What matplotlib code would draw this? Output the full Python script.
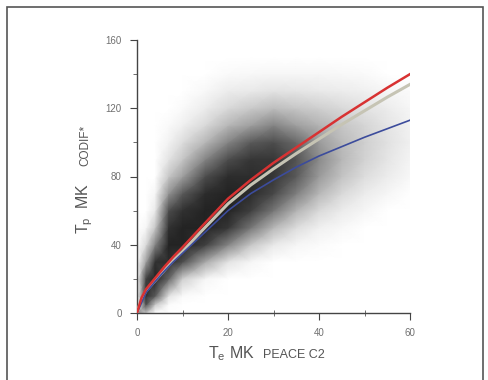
import matplotlib
matplotlib.use("Agg")
import matplotlib.pyplot as plt
import numpy as np
from matplotlib.colors import LinearSegmentedColormap
from matplotlib.patches import Rectangle

plt.rcParams["font.family"] = ["Liberation Sans", "DejaVu Sans"]
plt.rcParams["mathtext.fontset"] = "custom"
plt.rcParams["mathtext.rm"] = "Liberation Sans"

# fitted curves
red_x = [0, 1, 2, 4, 6, 8, 10, 14, 20, 25, 30, 35, 40, 45, 50, 55, 60]
red_y = [0, 9, 14, 20.5, 27, 33, 38.5, 50, 67, 78, 88, 97, 106, 115, 123.5, 132, 140]
grey_y = [0, 8.5, 13, 19, 25, 31, 36, 47.5, 64, 75, 84.5, 93.5, 102, 110.5, 118.5, 126.5, 134]
blue_x = [0, 2, 4, 6, 8, 10, 14, 20, 25, 30, 35, 40, 45, 50, 55, 60]
blue_y = [0, 12, 18.5, 24.5, 30, 35, 45, 60, 70, 78, 85.5, 92, 97.5, 103, 108, 113]

# darkness of the scatter cloud at grid nodes (0 = empty, 1 = solid black)
cloud_x = [0, 2, 4, 7, 10, 15, 20, 25, 30, 35, 40, 45, 50, 55, 60]
cloud_y = [0, 5, 10, 20, 30, 40, 50, 60, 70, 80, 90, 100, 110, 120, 130, 140, 150, 160]
cloud = [
    [0.60, 0.30, 0.00, 0.00, 0.00, 0.00, 0.00, 0.00, 0.00, 0.00, 0.00, 0.00, 0.00, 0.00, 0.00],  # 0
    [0.00, 0.80, 0.30, 0.02, 0.00, 0.00, 0.00, 0.00, 0.00, 0.00, 0.00, 0.00, 0.00, 0.00, 0.00],  # 5
    [0.00, 0.90, 0.75, 0.15, 0.03, 0.00, 0.00, 0.00, 0.00, 0.00, 0.00, 0.00, 0.00, 0.00, 0.00],  # 10
    [0.00, 0.85, 0.95, 0.70, 0.25, 0.05, 0.00, 0.00, 0.00, 0.00, 0.00, 0.00, 0.00, 0.00, 0.00],  # 20
    [0.00, 0.50, 0.90, 0.92, 0.80, 0.45, 0.15, 0.05, 0.00, 0.00, 0.00, 0.00, 0.00, 0.00, 0.00],  # 30
    [0.00, 0.20, 0.60, 0.95, 0.95, 0.85, 0.60, 0.30, 0.12, 0.05, 0.02, 0.00, 0.00, 0.00, 0.00],  # 40
    [0.00, 0.05, 0.30, 0.90, 0.95, 0.95, 0.88, 0.65, 0.38, 0.18, 0.08, 0.04, 0.00, 0.00, 0.00],  # 50
    [0.00, 0.00, 0.12, 0.80, 0.90, 0.95, 0.95, 0.85, 0.65, 0.40, 0.20, 0.10, 0.05, 0.00, 0.00],  # 60
    [0.00, 0.00, 0.05, 0.55, 0.75, 0.92, 0.95, 0.92, 0.82, 0.62, 0.38, 0.20, 0.10, 0.05, 0.00],  # 70
    [0.00, 0.00, 0.00, 0.30, 0.50, 0.80, 0.92, 0.92, 0.88, 0.75, 0.52, 0.32, 0.18, 0.10, 0.04],  # 80
    [0.00, 0.00, 0.00, 0.15, 0.30, 0.60, 0.80, 0.88, 0.88, 0.78, 0.58, 0.38, 0.24, 0.14, 0.06],  # 90
    [0.00, 0.00, 0.00, 0.07, 0.18, 0.38, 0.60, 0.75, 0.80, 0.70, 0.52, 0.36, 0.25, 0.16, 0.08],  # 100
    [0.00, 0.00, 0.00, 0.03, 0.08, 0.20, 0.38, 0.50, 0.60, 0.50, 0.40, 0.30, 0.22, 0.14, 0.07],  # 110
    [0.00, 0.00, 0.00, 0.00, 0.03, 0.10, 0.20, 0.28, 0.35, 0.30, 0.25, 0.20, 0.15, 0.10, 0.05],  # 120
    [0.00, 0.00, 0.00, 0.00, 0.00, 0.04, 0.10, 0.12, 0.15, 0.14, 0.12, 0.10, 0.08, 0.05, 0.02],  # 130
    [0.00, 0.00, 0.00, 0.00, 0.00, 0.00, 0.03, 0.04, 0.05, 0.05, 0.05, 0.04, 0.03, 0.00, 0.00],  # 140
    [0.00, 0.00, 0.00, 0.00, 0.00, 0.00, 0.00, 0.00, 0.00, 0.00, 0.00, 0.00, 0.00, 0.00, 0.00],  # 150
    [0.00, 0.00, 0.00, 0.00, 0.00, 0.00, 0.00, 0.00, 0.00, 0.00, 0.00, 0.00, 0.00, 0.00, 0.00],  # 160
]

fig = plt.figure(figsize=(4.88, 3.8), dpi=100)
ax = fig.add_axes([137/488, 67/380, 273/488, 273/380])

cmap = LinearSegmentedColormap.from_list("cloud", ["#ffffff", "#a0a0a0", "#161616"])
gx, gy = np.meshgrid(cloud_x, cloud_y)
ax.pcolormesh(gx, gy, np.array(cloud), shading="gouraud", cmap=cmap, vmin=0, vmax=1, zorder=1)

ax.plot(red_x, grey_y, color="#c6c4b4", lw=2.2, zorder=3)
ax.plot(blue_x, blue_y, color="#3c4c9c", lw=1.2, zorder=3)
ax.plot(red_x, red_y, color="#d83232", lw=1.8, zorder=4)

ax.set_xlim(0, 60)
ax.set_ylim(0, 160)
ax.set_xticks([0, 20, 40, 60])
ax.set_xticks([10, 30, 50], minor=True)
ax.set_yticks([0, 40, 80, 120, 160])
ax.set_yticks([20, 60, 100, 140], minor=True)
for s in ["top", "right"]:
    ax.spines[s].set_visible(False)
for s in ["left", "bottom"]:
    ax.spines[s].set_color("#444444")
    ax.spines[s].set_linewidth(1.0)
ax.tick_params(which="major", direction="out", length=5, color="#444444",
               labelsize=7, labelcolor="#707070", pad=6)
ax.tick_params(axis="x", which="minor", direction="inout", length=4, color="#555555")
ax.tick_params(axis="y", which="minor", direction="out", length=3, color="#555555")

# axis labels with small-caps part
fig.text(208/488, 1 - 358/380, r"T$_{\rm e}$ MK", fontsize=11.5, color="#555555", ha="left")
fig.text(263/488, 1 - 358/380, "PEACE C2", fontsize=9, color="#555555", ha="left")
fig.text(88/488, 1 - 234/380, r"T$_{\rm p}$  MK", fontsize=11.5, color="#555555",
         rotation=90, ha="left", va="baseline", rotation_mode="anchor")
fig.text(88/488, 1 - 166/380, "CODIF*", fontsize=8.5, color="#555555",
         rotation=90, ha="left", va="baseline", rotation_mode="anchor")

# figure frame
fig.patches.append(Rectangle((7/488, -0.1), 476/488, 1.1 - 7/380, transform=fig.transFigure,
                             fill=False, edgecolor="#555555", lw=1.2))

fig.savefig("out.png", dpi=100)
